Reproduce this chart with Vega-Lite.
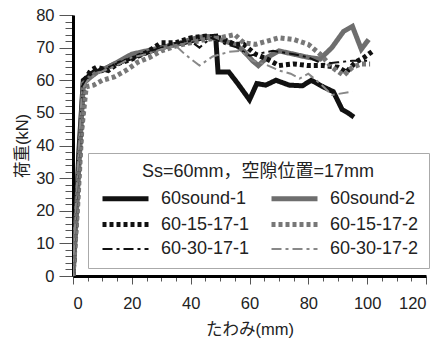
{
  "$schema": "https://vega.github.io/schema/vega-lite/v6.json",
  "width": 353,
  "height": 261,
  "autosize": {"type": "none"},
  "padding": {"left": 73, "top": 15, "right": 15, "bottom": 63},
  "background": "white",
  "config": {
    "view": {"stroke": null},
    "font": "Liberation Sans, Noto Sans CJK JP, sans-serif",
    "axis": {
      "grid": false,
      "domainColor": "#000000",
      "domainWidth": 3,
      "tickColor": "#555555",
      "tickWidth": 1,
      "labelFont": "Liberation Sans, sans-serif",
      "labelFontSize": 16.5,
      "labelColor": "#222222",
      "titleFont": "Liberation Sans, Noto Sans CJK JP, sans-serif",
      "titleFontSize": 16.5,
      "titleFontWeight": "normal",
      "titleColor": "#222222"
    },
    "legend": {
      "orient": "none",
      "legendX": 15,
      "legendY": 138,
      "columns": 2,
      "direction": "horizontal",
      "strokeColor": "#aaaaaa",
      "fillColor": "white",
      "padding": 10,
      "titleFont": "Liberation Sans, Noto Sans CJK JP, sans-serif",
      "titleFontSize": 18,
      "titleFontWeight": "normal",
      "titleColor": "#222222",
      "titleAnchor": "middle",
      "titleAlign": "center",
      "titleLimit": 1000,
      "titlePadding": 5,
      "labelFont": "Liberation Sans, sans-serif",
      "labelFontSize": 18,
      "labelColor": "#222222",
      "labelLimit": 1000,
      "labelOffset": 38,
      "symbolType": "M-0.8,0H3.8",
      "symbolSize": 400,
      "columnPadding": 11,
      "rowPadding": 3
    }
  },
  "data": {
    "values": [
      {"series": "60sound-1", "x": 0, "y": 0},
      {"series": "60sound-1", "x": 1, "y": 18},
      {"series": "60sound-1", "x": 2, "y": 38},
      {"series": "60sound-1", "x": 3.5, "y": 60},
      {"series": "60sound-1", "x": 5, "y": 61},
      {"series": "60sound-1", "x": 7, "y": 62.5},
      {"series": "60sound-1", "x": 10, "y": 63},
      {"series": "60sound-1", "x": 13, "y": 64.5},
      {"series": "60sound-1", "x": 16, "y": 65.5},
      {"series": "60sound-1", "x": 20, "y": 67},
      {"series": "60sound-1", "x": 25, "y": 68.5},
      {"series": "60sound-1", "x": 30, "y": 70},
      {"series": "60sound-1", "x": 35, "y": 71},
      {"series": "60sound-1", "x": 40, "y": 72},
      {"series": "60sound-1", "x": 44, "y": 73},
      {"series": "60sound-1", "x": 48.5, "y": 73.5},
      {"series": "60sound-1", "x": 49.3, "y": 62.5},
      {"series": "60sound-1", "x": 53, "y": 62.5},
      {"series": "60sound-1", "x": 56, "y": 59},
      {"series": "60sound-1", "x": 60, "y": 54},
      {"series": "60sound-1", "x": 62.5, "y": 59},
      {"series": "60sound-1", "x": 65.5, "y": 58.5},
      {"series": "60sound-1", "x": 69, "y": 60},
      {"series": "60sound-1", "x": 73.5, "y": 58.5},
      {"series": "60sound-1", "x": 78, "y": 58.3},
      {"series": "60sound-1", "x": 81, "y": 60},
      {"series": "60sound-1", "x": 85, "y": 58},
      {"series": "60sound-1", "x": 88.5, "y": 56.5},
      {"series": "60sound-1", "x": 91.5, "y": 51},
      {"series": "60sound-1", "x": 93.5, "y": 50},
      {"series": "60sound-1", "x": 95.5, "y": 48.7},

      {"series": "60sound-2", "x": 0, "y": 0},
      {"series": "60sound-2", "x": 1.5, "y": 25},
      {"series": "60sound-2", "x": 3.5, "y": 59},
      {"series": "60sound-2", "x": 6, "y": 61},
      {"series": "60sound-2", "x": 9, "y": 63},
      {"series": "60sound-2", "x": 12, "y": 64},
      {"series": "60sound-2", "x": 16, "y": 66},
      {"series": "60sound-2", "x": 20, "y": 68},
      {"series": "60sound-2", "x": 25, "y": 69},
      {"series": "60sound-2", "x": 30, "y": 70},
      {"series": "60sound-2", "x": 35, "y": 71},
      {"series": "60sound-2", "x": 40, "y": 72.5},
      {"series": "60sound-2", "x": 45, "y": 73.5},
      {"series": "60sound-2", "x": 50, "y": 72.5},
      {"series": "60sound-2", "x": 55, "y": 71},
      {"series": "60sound-2", "x": 58, "y": 69},
      {"series": "60sound-2", "x": 61, "y": 66},
      {"series": "60sound-2", "x": 63, "y": 64.5},
      {"series": "60sound-2", "x": 66, "y": 67},
      {"series": "60sound-2", "x": 70, "y": 69},
      {"series": "60sound-2", "x": 75, "y": 68},
      {"series": "60sound-2", "x": 80, "y": 67},
      {"series": "60sound-2", "x": 84, "y": 66.5},
      {"series": "60sound-2", "x": 88, "y": 70},
      {"series": "60sound-2", "x": 92, "y": 75},
      {"series": "60sound-2", "x": 95, "y": 76.5},
      {"series": "60sound-2", "x": 98, "y": 69.5},
      {"series": "60sound-2", "x": 100.5, "y": 72.5},

      {"series": "60-15-17-1", "x": 0, "y": 0},
      {"series": "60-15-17-1", "x": 1, "y": 15},
      {"series": "60-15-17-1", "x": 2.5, "y": 40},
      {"series": "60-15-17-1", "x": 4, "y": 60},
      {"series": "60-15-17-1", "x": 6, "y": 63},
      {"series": "60-15-17-1", "x": 8, "y": 64},
      {"series": "60-15-17-1", "x": 12, "y": 63},
      {"series": "60-15-17-1", "x": 15, "y": 65},
      {"series": "60-15-17-1", "x": 20, "y": 66.5},
      {"series": "60-15-17-1", "x": 25, "y": 68.5},
      {"series": "60-15-17-1", "x": 30, "y": 71.5},
      {"series": "60-15-17-1", "x": 35, "y": 71.5},
      {"series": "60-15-17-1", "x": 40, "y": 73},
      {"series": "60-15-17-1", "x": 45, "y": 73.5},
      {"series": "60-15-17-1", "x": 50, "y": 73},
      {"series": "60-15-17-1", "x": 55, "y": 71},
      {"series": "60-15-17-1", "x": 58, "y": 71},
      {"series": "60-15-17-1", "x": 62, "y": 68},
      {"series": "60-15-17-1", "x": 66, "y": 66.5},
      {"series": "60-15-17-1", "x": 70, "y": 64.5},
      {"series": "60-15-17-1", "x": 75, "y": 65},
      {"series": "60-15-17-1", "x": 80, "y": 64.5},
      {"series": "60-15-17-1", "x": 85, "y": 64.5},
      {"series": "60-15-17-1", "x": 90, "y": 64},
      {"series": "60-15-17-1", "x": 93, "y": 62.5},
      {"series": "60-15-17-1", "x": 96, "y": 65.5},
      {"series": "60-15-17-1", "x": 99, "y": 67},
      {"series": "60-15-17-1", "x": 102, "y": 69},

      {"series": "60-15-17-2", "x": 0, "y": 0},
      {"series": "60-15-17-2", "x": 1.5, "y": 20},
      {"series": "60-15-17-2", "x": 3, "y": 45},
      {"series": "60-15-17-2", "x": 4.5, "y": 58},
      {"series": "60-15-17-2", "x": 7, "y": 58.5},
      {"series": "60-15-17-2", "x": 10, "y": 60},
      {"series": "60-15-17-2", "x": 14, "y": 61},
      {"series": "60-15-17-2", "x": 18, "y": 63},
      {"series": "60-15-17-2", "x": 22, "y": 65.5},
      {"series": "60-15-17-2", "x": 26, "y": 67},
      {"series": "60-15-17-2", "x": 30, "y": 69},
      {"series": "60-15-17-2", "x": 35, "y": 70.5},
      {"series": "60-15-17-2", "x": 40, "y": 71.5},
      {"series": "60-15-17-2", "x": 45, "y": 72.5},
      {"series": "60-15-17-2", "x": 50, "y": 73},
      {"series": "60-15-17-2", "x": 55, "y": 74},
      {"series": "60-15-17-2", "x": 58, "y": 71.5},
      {"series": "60-15-17-2", "x": 62, "y": 71},
      {"series": "60-15-17-2", "x": 66, "y": 72},
      {"series": "60-15-17-2", "x": 70, "y": 73},
      {"series": "60-15-17-2", "x": 75, "y": 72.5},
      {"series": "60-15-17-2", "x": 80, "y": 71},
      {"series": "60-15-17-2", "x": 84, "y": 68},
      {"series": "60-15-17-2", "x": 88, "y": 64},
      {"series": "60-15-17-2", "x": 92, "y": 61.5},
      {"series": "60-15-17-2", "x": 95, "y": 64},
      {"series": "60-15-17-2", "x": 98, "y": 65},
      {"series": "60-15-17-2", "x": 101, "y": 65},

      {"series": "60-30-17-1", "x": 0, "y": 0},
      {"series": "60-30-17-1", "x": 1, "y": 20},
      {"series": "60-30-17-1", "x": 3, "y": 58},
      {"series": "60-30-17-1", "x": 5, "y": 61},
      {"series": "60-30-17-1", "x": 8, "y": 63},
      {"series": "60-30-17-1", "x": 12, "y": 64},
      {"series": "60-30-17-1", "x": 16, "y": 65.5},
      {"series": "60-30-17-1", "x": 20, "y": 67},
      {"series": "60-30-17-1", "x": 25, "y": 68.5},
      {"series": "60-30-17-1", "x": 30, "y": 70},
      {"series": "60-30-17-1", "x": 35, "y": 71.5},
      {"series": "60-30-17-1", "x": 40, "y": 72},
      {"series": "60-30-17-1", "x": 43, "y": 70},
      {"series": "60-30-17-1", "x": 47, "y": 73},
      {"series": "60-30-17-1", "x": 52, "y": 71},
      {"series": "60-30-17-1", "x": 56, "y": 70},
      {"series": "60-30-17-1", "x": 60, "y": 67.5},
      {"series": "60-30-17-1", "x": 65, "y": 68.5},
      {"series": "60-30-17-1", "x": 68, "y": 69},
      {"series": "60-30-17-1", "x": 75, "y": 68},
      {"series": "60-30-17-1", "x": 80, "y": 67},
      {"series": "60-30-17-1", "x": 85, "y": 65},
      {"series": "60-30-17-1", "x": 90, "y": 65.5},
      {"series": "60-30-17-1", "x": 95, "y": 66},
      {"series": "60-30-17-1", "x": 100, "y": 66},

      {"series": "60-30-17-2", "x": 0, "y": 0},
      {"series": "60-30-17-2", "x": 1, "y": 22},
      {"series": "60-30-17-2", "x": 3, "y": 57},
      {"series": "60-30-17-2", "x": 5, "y": 60},
      {"series": "60-30-17-2", "x": 8, "y": 62},
      {"series": "60-30-17-2", "x": 12, "y": 63.5},
      {"series": "60-30-17-2", "x": 16, "y": 65},
      {"series": "60-30-17-2", "x": 20, "y": 67},
      {"series": "60-30-17-2", "x": 25, "y": 68},
      {"series": "60-30-17-2", "x": 30, "y": 69.5},
      {"series": "60-30-17-2", "x": 35, "y": 70.5},
      {"series": "60-30-17-2", "x": 38, "y": 68},
      {"series": "60-30-17-2", "x": 43, "y": 64.5},
      {"series": "60-30-17-2", "x": 47.5, "y": 67.3},
      {"series": "60-30-17-2", "x": 53, "y": 68.7},
      {"series": "60-30-17-2", "x": 57, "y": 69},
      {"series": "60-30-17-2", "x": 61, "y": 66},
      {"series": "60-30-17-2", "x": 65, "y": 65},
      {"series": "60-30-17-2", "x": 70, "y": 63},
      {"series": "60-30-17-2", "x": 74, "y": 62},
      {"series": "60-30-17-2", "x": 77, "y": 60.5},
      {"series": "60-30-17-2", "x": 80, "y": 62},
      {"series": "60-30-17-2", "x": 84, "y": 59},
      {"series": "60-30-17-2", "x": 88, "y": 55.5},
      {"series": "60-30-17-2", "x": 95, "y": 56.5}
    ]
  },
  "mark": {"type": "line", "clip": true},
  "encoding": {
    "x": {
      "field": "x",
      "type": "quantitative",
      "scale": {"domain": [0, 120], "nice": false},
      "axis": {
        "title": "たわみ(mm)",
        "values": [0,5,10,15,20,25,30,35,40,45,50,55,60,65,70,75,80,85,90,95,100,105,110,115,120],
        "labelExpr": "datum.value % 20 === 0 ? datum.label : ''",
        "tickSize": {"condition": {"test": "datum.value % 20 === 0", "value": 8}, "value": 5},
        "labelPadding": 11,
        "titlePadding": 10
      }
    },
    "y": {
      "field": "y",
      "type": "quantitative",
      "scale": {"domain": [0, 80], "nice": false},
      "axis": {
        "title": "荷重(kN)",
        "values": [0,2,4,6,8,10,12,14,16,18,20,22,24,26,28,30,32,34,36,38,40,42,44,46,48,50,52,54,56,58,60,62,64,66,68,70,72,74,76,78,80],
        "labelExpr": "datum.value % 10 === 0 ? datum.label : ''",
        "tickSize": {"condition": {"test": "datum.value % 10 === 0", "value": 14}, "value": 8},
        "labelPadding": 5,
        "titlePadding": 5
      }
    },
    "color": {
      "field": "series",
      "type": "nominal",
      "title": "Ss=60mm，空隙位置=17mm",
      "scale": {
        "domain": ["60sound-1", "60sound-2", "60-15-17-1", "60-15-17-2", "60-30-17-1", "60-30-17-2"],
        "range": ["#111111", "#6e6e6e", "#111111", "#777777", "#111111", "#888888"]
      }
    },
    "strokeDash": {
      "field": "series",
      "type": "nominal",
      "title": "Ss=60mm，空隙位置=17mm",
      "scale": {
        "domain": ["60sound-1", "60sound-2", "60-15-17-1", "60-15-17-2", "60-30-17-1", "60-30-17-2"],
        "range": [[1, 0], [1, 0], [4, 3], [4, 3], [10, 4, 3, 4], [10, 4, 3, 4]]
      }
    },
    "strokeWidth": {
      "field": "series",
      "type": "nominal",
      "title": "Ss=60mm，空隙位置=17mm",
      "scale": {
        "type": "ordinal",
        "domain": ["60sound-1", "60sound-2", "60-15-17-1", "60-15-17-2", "60-30-17-1", "60-30-17-2"],
        "range": [5, 5, 5, 5, 2, 2]
      }
    }
  }
}
